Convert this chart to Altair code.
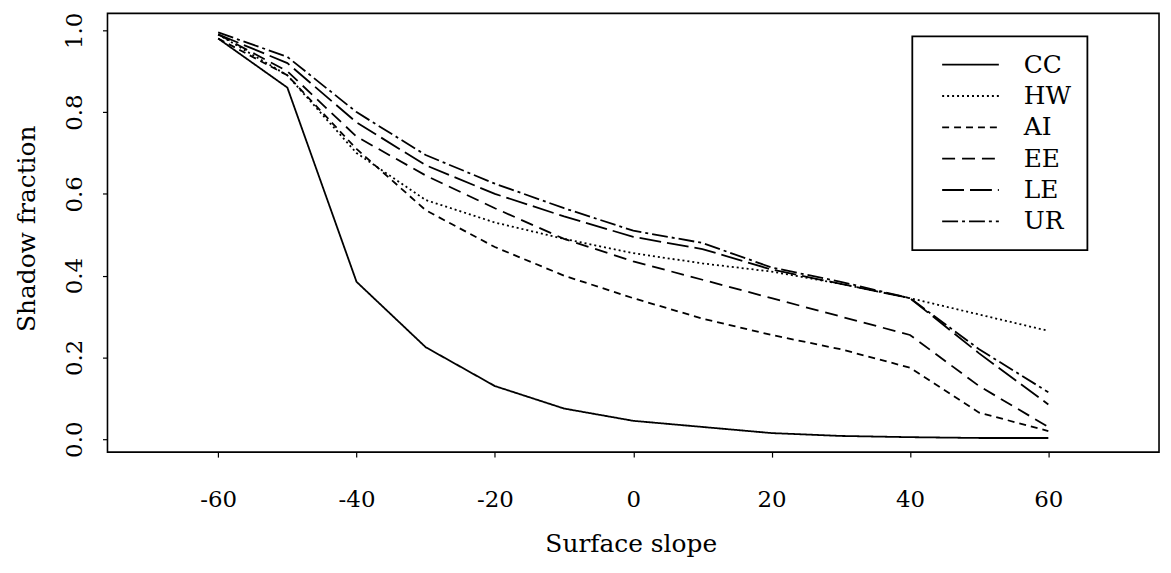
import altair as alt
import pandas as pd

slope = [-60, -50, -40, -30, -20, -10, 0, 10, 20, 30, 40, 50, 60]
CC = [0.98, 0.86, 0.385, 0.225, 0.13, 0.075, 0.045, 0.03, 0.015, 0.008, 0.005, 0.003, 0.003]
HW = [0.99, 0.89, 0.70, 0.585, 0.53, 0.49, 0.455, 0.43, 0.41, 0.38, 0.345, 0.305, 0.265]
AI = [0.98, 0.89, 0.71, 0.56, 0.47, 0.40, 0.345, 0.295, 0.255, 0.22, 0.175, 0.065, 0.02]
EE = [0.99, 0.90, 0.74, 0.645, 0.565, 0.49, 0.435, 0.39, 0.345, 0.30, 0.255, 0.13, 0.03]
LE = [0.99, 0.92, 0.775, 0.67, 0.60, 0.545, 0.495, 0.465, 0.415, 0.38, 0.345, 0.21, 0.085]
UR = [0.995, 0.935, 0.80, 0.695, 0.625, 0.565, 0.51, 0.48, 0.42, 0.385, 0.345, 0.22, 0.115]

series_names = ["CC", "HW", "AI", "EE", "LE", "UR"]
series_values = [CC, HW, AI, EE, LE, UR]
dash_styles = [[1, 0], [2, 3], [7, 5], [13, 7], [22, 6], [16, 4, 3, 4]]

x_ticks = [-60, -40, -20, 0, 20, 40, 60]
y_ticks = [0.0, 0.2, 0.4, 0.6, 0.8, 1.0]

rows = []
for name, vals in zip(series_names, series_values):
    for xv, yv in zip(slope, vals):
        rows.append({"slope": xv, "fraction": yv, "series": name})
df = pd.DataFrame(rows)

FONT = "DejaVu Serif"

chart = (
    alt.Chart(df)
    .mark_line(color="black", strokeWidth=1.8)
    .encode(
        x=alt.X(
            "slope:Q",
            scale=alt.Scale(domain=[-76, 76], nice=False, zero=False),
            axis=alt.Axis(
                title="Surface slope",
                values=x_ticks,
                labelExpr="'' + datum.value",
                labelBaseline="alphabetic",
                labelPadding=50,
                titleBaseline="alphabetic",
                titleY=100,
                titleX=526,
            ),
        ),
        y=alt.Y(
            "fraction:Q",
            scale=alt.Scale(domain=[-0.0316, 1.0414], nice=False, zero=False),
            axis=alt.Axis(
                title="Shadow fraction",
                values=y_ticks,
                format=".1f",
                labelAngle=270,
                labelAlign="center",
                labelBaseline="alphabetic",
                labelPadding=21,
                titleAngle=270,
                titleBaseline="alphabetic",
                titleAlign="center",
                titleX=-73,
                titleY=216,
            ),
        ),
        strokeDash=alt.StrokeDash(
            "series:N",
            scale=alt.Scale(domain=series_names, range=dash_styles),
            sort=series_names,
            title=None,
            legend=alt.Legend(
                orient="none",
                legendX=809,
                legendY=23,
                symbolType="stroke",
                symbolSize=3249,
                symbolStrokeWidth=1.8,
                symbolStrokeColor="black",
                symbolOffset=13,
                labelFontSize=25,
                labelFont=FONT,
                labelColor="black",
                labelOffset=24,
                clipHeight=25,
                rowPadding=5.5,
                padding=16,
                strokeColor="black",
                fillColor="white",
            ),
        ),
        detail="series:N",
    )
    .properties(
        width=1057,
        height=441,
        autosize=alt.AutoSizeParams(type="none"),
        padding={"left": 100, "top": 4, "right": 4, "bottom": 110},
    )
    .configure_view(stroke="black", strokeWidth=1.6, fill="white")
    .configure_axis(
        grid=False,
        domain=False,
        tickColor="black",
        tickSize=5,
        tickWidth=1.2,
        labelFont=FONT,
        labelFontSize=23,
        labelColor="black",
        titleFont=FONT,
        titleFontSize=25,
        titleFontWeight="normal",
        titleColor="black",
    )
    .configure_legend(strokeWidth=1.8)
)

chart.save("out.html", embed_options={"renderer": "svg", "actions": False})
